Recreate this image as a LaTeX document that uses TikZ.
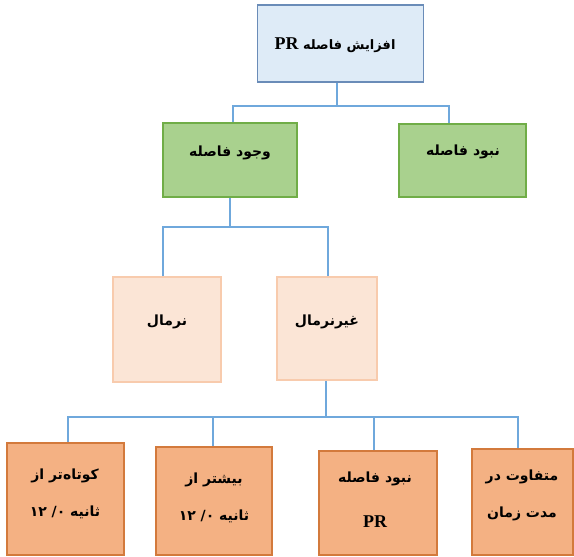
\documentclass[tikz,border=0pt]{standalone}
\usepackage{fontspec}
\usetikzlibrary{calc}
\TeXXeTstate=1
\newfontfamily\fafont[Script=Arabic]{DejaVu Sans}
\newfontfamily\latfont{Liberation Serif}

\definecolor{blueFill}{HTML}{DEEBF7}
\definecolor{blueLine}{HTML}{6A8CB8}
\definecolor{greenFill}{HTML}{A9D18E}
\definecolor{greenLine}{HTML}{70AD47}
\definecolor{pinkFill}{HTML}{FBE5D6}
\definecolor{pinkLine}{HTML}{F8CBAD}
\definecolor{orangeFill}{HTML}{F4B183}
\definecolor{orangeLine}{HTML}{D37A3C}
\definecolor{wireCol}{HTML}{6FA8DC}

% Persian text (right to left) and Latin text
\newcommand{\fa}[1]{{\fafont\bfseries\beginR #1\endR}}
\newcommand{\lat}[1]{{\latfont\bfseries\fontsize{18}{18}\selectfont #1}}

\begin{document}
\begin{tikzpicture}[x=1pt,y=-1pt,
  box/.style={draw, line width=1.7pt, inner sep=0pt, rectangle},
  rootbox/.style={box, fill=blueFill, draw=blueLine},
  midbox/.style={box, fill=greenFill, draw=greenLine},
  lowbox/.style={box, fill=pinkFill, draw=pinkLine},
  leafbox/.style={box, fill=orangeFill, draw=orangeLine},
  label text/.style={inner sep=0pt, align=center, font=\fontsize{14}{37}\selectfont},
  wire/.style={draw=wireCol, line width=1.8pt}]
\useasboundingbox (0,0) rectangle (574,557);

% boxes
\node[rootbox, minimum width=166pt, minimum height=77pt] (top) at (340.5,43.5) {};
\node[midbox, minimum width=134pt, minimum height=74pt] (gl) at (230,160) {};
\node[midbox, minimum width=127pt, minimum height=73pt] (gr) at (462.5,160.5) {};
\node[lowbox, minimum width=108pt, minimum height=105pt] (pl) at (167,329.5) {};
\node[lowbox, minimum width=100pt, minimum height=103pt] (pr) at (327,328.5) {};
\node[leafbox, minimum width=117pt, minimum height=112pt] (b1) at (65.5,499) {};
\node[leafbox, minimum width=116pt, minimum height=108pt] (b2) at (214,501) {};
\node[leafbox, minimum width=118pt, minimum height=104pt] (b3) at (378,503) {};
\node[leafbox, minimum width=101pt, minimum height=106pt] (b4) at (522.5,502) {};

% texts
\node[label text, font=\fontsize{13}{13}\selectfont] (ttop) at (335,45) {\fa{افزایش فاصله \beginL\lat{PR}\endL}};
\node[label text] (tgl) at (230,153) {\fa{وجود فاصله}};
\node[label text] (tgr) at (463,152) {\fa{نبود فاصله}};
\node[label text] (tpl) at (167,322) {\fa{نرمال}};
\node[label text] (tpr) at (327,322) {\fa{غیرنرمال}};
\node[label text] (tb1) at (65,493.5) {\fa{کوتاه‌تر از}\\\fa{ثانیه ۰\kern0pt/ ۱۲}};
\node[label text] (tb2) at (214,497.5) {\fa{بیشتر از}\\\fa{ثانیه ۰\kern0pt/ ۱۲}};
\node[label text, font=\fontsize{14}{45}\selectfont] (tb3) at (375,499.5) {\fa{نبود فاصله}\\\lat{PR}};
\node[label text] (tb4) at (522,495.5) {\fa{متفاوت در}\\\fa{مدت زمان}};

% bus levels
\coordinate (busA) at (0,106);
\coordinate (busB) at (0,227);
\coordinate (busC) at (0,417);

% connectors
\draw[wire] ($(top.south)+(-3.5,0)$) -- ($(top.south |- busA)+(-3.5,0)$);
\draw[wire] ($(gl.north)+(3,0)$) |- ($(gr.north |- busA)+(-13.5,0)$) -- ($(gr.north)+(-13.5,0)$);
\draw[wire] (gl.south) -- (gl.south |- busB);
\draw[wire] ($(pl.north)+(-4,0)$) |- ($(pr.north |- busB)+(1,0)$) -- ($(pr.north)+(1,0)$);
\draw[wire] ($(pr.south)+(-1,0)$) -- ($(pr.south |- busC)+(-1,0)$);
\draw[wire] ($(b1.north)+(2.5,0)$) |- ($(b4.north |- busC)+(-4.5,0)$) -- ($(b4.north)+(-4.5,0)$);
\draw[wire] ($(b2.north)+(-1,0)$) -- ($(b2.north |- busC)+(-1,0)$);
\draw[wire] ($(b3.north)+(-4,0)$) -- ($(b3.north |- busC)+(-4,0)$);
\end{tikzpicture}
\end{document}
